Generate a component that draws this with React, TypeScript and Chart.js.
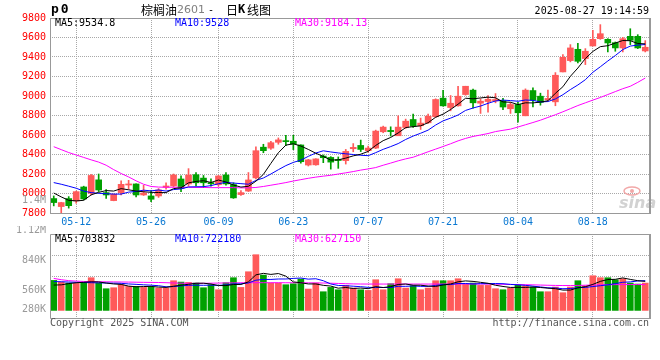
import React, { useEffect, useRef } from "react";
import { Chart, registerables } from "chart.js";

Chart.register(...registerables);

// ---------------- data ----------------
const dates = [
  "05-07","05-08","05-09","05-12","05-13","05-14","05-15","05-16","05-19","05-20",
  "05-21","05-22","05-23","05-26","05-27","05-28","05-29","05-30","06-03","06-04",
  "06-05","06-06","06-09","06-10","06-11","06-12","06-13","06-16","06-17","06-18",
  "06-19","06-20","06-23","06-24","06-25","06-26","06-27","06-30","07-01","07-02",
  "07-03","07-04","07-07","07-08","07-09","07-10","07-11","07-14","07-15","07-16",
  "07-17","07-18","07-21","07-22","07-23","07-24","07-25","07-28","07-29","07-30",
  "07-31","08-01","08-04","08-05","08-06","08-07","08-08","08-11","08-12","08-13",
  "08-14","08-15","08-18","08-19","08-20","08-21","08-22","08-25","08-26","08-27",
];

const opens = [
  7948, 7866, 7948, 7924, 8067, 8002, 8140, 8009, 7927, 8009,
  8087, 8098, 7985, 7975, 7975, 8064, 8077, 8149, 8098, 8193,
  8158, 8112, 8090, 8190, 8092, 7989, 8025, 8160, 8475, 8465,
  8525, 8536, 8536, 8498, 8292, 8294, 8384, 8370, 8345, 8337,
  8459, 8493, 8439, 8466, 8633, 8647, 8592, 8677, 8759, 8695,
  8725, 8787, 8978, 8882, 8899, 9015, 9060, 8926, 8943, 8950,
  8952, 8869, 8913, 8797, 9056, 8998, 8961, 8940, 9247, 9363,
  9479, 9384, 9513, 9588, 9581, 9547, 9493, 9612, 9612, 9462,
];
const highs = [
  7975, 7910, 7968, 8025, 8075, 8195, 8200, 8040, 7995, 8130,
  8135, 8098, 8085, 8030, 8050, 8110, 8200, 8180, 8255, 8215,
  8185, 8150, 8185, 8215, 8110, 8030, 8215, 8478, 8505, 8535,
  8570, 8597, 8597, 8498, 8350, 8357, 8395, 8378, 8375, 8452,
  8512, 8548, 8486, 8650, 8691, 8684, 8797, 8763, 8814, 8773,
  8814, 8971, 9059, 9005, 9100, 9100, 9070, 8971, 9005, 9025,
  8975, 8934, 8934, 9073, 9084, 9029, 9060, 9240, 9425, 9527,
  9540, 9486, 9674, 9732, 9588, 9554, 9602, 9690, 9629, 9568,
];
const lows = [
  7873, 7800, 7850, 7900, 7935, 7985, 8020, 7950, 7925, 7985,
  8045, 7965, 7980, 7915, 7960, 8045, 8065, 8020, 8075, 8078,
  8060, 8075, 8075, 8085, 7950, 7980, 8020, 8150, 8418, 8452,
  8505, 8490, 8450, 8310, 8282, 8290, 8316, 8250, 8258, 8302,
  8428, 8430, 8422, 8460, 8623, 8589, 8592, 8667, 8677, 8657,
  8718, 8780, 8896, 8848, 8896, 9008, 8875, 8821, 8834, 8930,
  8860, 8821, 8732, 8797, 8889, 8906, 8947, 8900, 9247, 9350,
  9339, 9322, 9513, 9581, 9452, 9459, 9452, 9527, 9486, 9452,
];
const closes = [
  7907, 7907, 7875, 8019, 7944, 8185, 8036, 7985, 7992, 8094,
  8098, 7985, 8005, 7941, 8036, 8077, 8190, 8053, 8190, 8110,
  8110, 8100, 8180, 8098, 7955, 8009, 8139, 8439, 8439, 8521,
  8550, 8532, 8506, 8326, 8345, 8355, 8367, 8322, 8338, 8432,
  8473, 8452, 8466, 8640, 8681, 8635, 8681, 8742, 8691, 8722,
  8793, 8964, 8899, 8926, 8998, 9100, 8930, 8947, 8967, 8964,
  8887, 8913, 8828, 9060, 8957, 8934, 8975, 9213, 9397, 9493,
  9356, 9459, 9581, 9639, 9544, 9493, 9588, 9571, 9493, 9500,
];

const ma5 = [
  8005, 7965, 7930, 7924, 7930, 7986, 8012, 8030, 8025, 8050,
  8038, 8025, 8018, 8012, 8010, 8009, 8050, 8059, 8109, 8124,
  8131, 8113, 8138, 8118, 8087, 8066, 8074, 8126, 8196, 8309,
  8418, 8496, 8510, 8487, 8452, 8413, 8380, 8343, 8345, 8363,
  8386, 8403, 8432, 8493, 8542, 8575, 8621, 8676, 8686, 8694,
  8726, 8782, 8814, 8861, 8916, 8977, 8971, 8980, 8988, 8982,
  8939, 8936, 8912, 8930, 8929, 8938, 8951, 9028, 9095, 9202,
  9287, 9384, 9457, 9506, 9516, 9543, 9569, 9567, 9538, 9534.8,
];
const ma10 = [
  8112, 8095, 8075, 8054, 8025, 8009, 8002, 7998, 7994, 7994,
  8014, 8021, 8034, 8027, 8036, 8025, 8040, 8047, 8067, 8069,
  8070, 8081, 8100, 8115, 8107, 8101, 8095, 8134, 8159, 8200,
  8244, 8286, 8319, 8342, 8381, 8415, 8438, 8426, 8416, 8407,
  8400, 8392, 8388, 8419, 8453, 8481, 8512, 8554, 8589, 8618,
  8650, 8702, 8745, 8773, 8805, 8852, 8877, 8897, 8925, 8949,
  8958, 8953, 8946, 8959, 8955, 8939, 8943, 8970, 9013, 9066,
  9113, 9167, 9243, 9300, 9359, 9415, 9476, 9512, 9522, 9528,
];
const ma30 = [
  8480, 8450, 8420, 8395, 8370, 8345, 8322, 8290, 8245, 8205,
  8170, 8130, 8095, 8072, 8066, 8064, 8064, 8064, 8064, 8062,
  8062, 8060, 8060, 8060, 8060, 8058, 8058, 8062, 8072, 8085,
  8098, 8112, 8128, 8142, 8156, 8168, 8178, 8187, 8200, 8212,
  8225, 8240, 8252, 8266, 8290, 8312, 8335, 8355, 8372, 8400,
  8428, 8455, 8482, 8510, 8540, 8565, 8585, 8600, 8615, 8635,
  8648, 8660, 8682, 8705, 8728, 8752, 8780, 8808, 8838, 8870,
  8902, 8930, 8958, 8985, 9015, 9045, 9075, 9100, 9140, 9184.13,
];

const volumes = [
  728000, 687000, 663000, 655000, 679000, 793000, 663000, 526000, 550000, 623000,
  582000, 582000, 558000, 566000, 542000, 542000, 720000, 687000, 679000, 663000,
  550000, 623000, 501000, 671000, 793000, 558000, 938000, 1351000, 857000, 663000,
  663000, 623000, 647000, 760000, 518000, 663000, 453000, 558000, 501000, 607000,
  542000, 501000, 485000, 744000, 501000, 647000, 768000, 542000, 598000, 501000,
  542000, 720000, 720000, 720000, 768000, 647000, 663000, 607000, 607000, 526000,
  501000, 542000, 623000, 598000, 566000, 453000, 453000, 566000, 429000, 566000,
  720000, 598000, 841000, 793000, 793000, 744000, 768000, 663000, 639000, 663000,
];
const volMa5 = [
  615000, 620000, 650000, 670000, 682000, 695000, 691000, 663000, 642000, 631000,
  589000, 573000, 579000, 582000, 566000, 558000, 586000, 611000, 634000, 658000,
  660000, 640000, 603000, 602000, 628000, 629000, 692000, 862000, 899000, 873000,
  894000, 831000, 691000, 671000, 642000, 642000, 608000, 590000, 539000, 556000,
  532000, 542000, 527000, 576000, 555000, 576000, 629000, 640000, 611000, 611000,
  590000, 581000, 616000, 641000, 694000, 715000, 704000, 681000, 658000, 610000,
  581000, 557000, 560000, 558000, 566000, 556000, 539000, 527000, 493000, 493000,
  547000, 576000, 631000, 704000, 749000, 754000, 788000, 752000, 721000, 703832,
];
const volMa10 = [
  700000, 695000, 688000, 680000, 675000, 672000, 668000, 664000, 660000, 657000,
  642000, 632000, 621000, 612000, 599000, 573000, 579000, 595000, 608000, 612000,
  609000, 613000, 607000, 618000, 643000, 645000, 666000, 733000, 751000, 751000,
  762000, 762000, 776000, 785000, 758000, 768000, 720000, 641000, 605000, 599000,
  587000, 575000, 559000, 557000, 556000, 554000, 585000, 584000, 594000, 583000,
  583000, 605000, 628000, 626000, 653000, 653000, 642000, 649000, 650000, 652000,
  648000, 630000, 620000, 608000, 588000, 569000, 548000, 544000, 526000, 530000,
  552000, 557000, 579000, 599000, 621000, 650000, 682000, 692000, 713000, 722180,
];
const volMa30 = [
  776000, 745000, 722000, 710000, 702000, 697000, 695000, 693000, 691000, 689000,
  687000, 684000, 681000, 679000, 677000, 672000, 665000, 660000, 657000, 656000,
  657000, 660000, 663000, 666000, 668000, 670000, 671000, 672000, 672000, 672000,
  672000, 671000, 671000, 670000, 669000, 667000, 664000, 660000, 654000, 648000,
  643000, 640000, 639000, 639000, 639000, 639000, 639000, 639000, 639000, 639000,
  639000, 640000, 640000, 641000, 641000, 641000, 640000, 639000, 638000, 636000,
  633000, 630000, 627000, 624000, 620000, 615000, 610000, 606000, 603000, 603000,
  606000, 611000, 616000, 620000, 623000, 625000, 626000, 627000, 627000, 627150,
];

const dateTickLabels = ["05-12", "05-26", "06-09", "06-23", "07-07", "07-21", "08-04", "08-18"];
const priceMin = 7800;
const priceMax = 9800;
const priceStep = 200;
const volTickLabels = ["1.12M", "840K", "560K", "280K"];
const volMaxLabel = "1.4M";
const priceLegend = ["MA5:9534.8", "MA10:9528", "MA30:9184.13"];
const volLegend = ["MA5:703832", "MA10:722180", "MA30:627150"];
const stampText = "2025-08-27 19:14:59";
const codeText = "p0";
const titleName = "棕榈油";
const titleCode = "2601";
const titleDash = "-";
const titleDay = "日";
const titleK = "K";
const titleKind = "线图";
const copyrightText = "Copyright 2025 SINA.COM";
const urlText = "http://finance.sina.com.cn";
const watermarkText = "sina";

// ---------------- style ----------------
const RED = "#ff5a5a";
const GREEN = "#00a000";
const MONO = "'DejaVu Sans Mono', 'Liberation Mono', monospace";
const CJK = "'Noto Sans CJK SC', sans-serif";
const GRID = "#a8a8a8";
const FRAME = "#999999";
const LEGEND_COLORS = ["#000000", "#0000ff", "#ff00ff"];

const candleColors = closes.map((c, i) => (c >= opens[i] ? RED : GREEN));

function drawFrame(ctx: CanvasRenderingContext2D, a: any) {
  const l = Math.round(a.left), t = Math.round(a.top), r = Math.round(a.right), b = Math.round(a.bottom);
  ctx.save();
  ctx.strokeStyle = FRAME;
  ctx.lineWidth = 1;
  ctx.beginPath();
  ctx.moveTo(l + 0.5, b + 0.5);
  ctx.lineTo(l + 0.5, t + 0.5);
  ctx.lineTo(r + 0.5, t + 0.5);
  ctx.moveTo(l + 0.5, b + 0.5);
  ctx.lineTo(r + 0.5, b + 0.5);
  ctx.stroke();
  ctx.lineWidth = 2;
  ctx.beginPath();
  ctx.moveTo(r + 1, t);
  ctx.lineTo(r + 1, b + 1);
  ctx.stroke();
  ctx.restore();
}

function drawLegend(ctx: CanvasRenderingContext2D, a: any, texts: string[]) {
  ctx.save();
  ctx.font = `10px ${MONO}`;
  ctx.textBaseline = "middle";
  ctx.textAlign = "left";
  texts.forEach((t, i) => {
    ctx.fillStyle = LEGEND_COLORS[i];
    ctx.fillText(t, a.left + 5 + i * 120, a.top + 5.5);
  });
  ctx.restore();
}

const mainDecor = {
  id: "mainDecor",
  beforeDatasetsDraw(chart: any) {
    const { ctx, chartArea: a } = chart;
    ctx.save();
    // watermark
    ctx.strokeStyle = "#f2a8a8";
    ctx.fillStyle = "#f2a8a8";
    ctx.lineWidth = 1.5;
    ctx.beginPath();
    ctx.ellipse(a.right - 17, a.bottom - 22, 8, 4, 0, 0, Math.PI * 2);
    ctx.stroke();
    ctx.beginPath();
    ctx.arc(a.right - 17, a.bottom - 22, 2, 0, Math.PI * 2);
    ctx.fill();
    ctx.fillStyle = "#d2d2d2";
    ctx.font = "italic bold 16px 'DejaVu Sans', sans-serif";
    ctx.textBaseline = "alphabetic";
    ctx.fillText(watermarkText, a.right - 30, a.bottom - 5);
    ctx.restore();
  },
  afterDraw(chart: any) {
    const { ctx, chartArea: a } = chart;
    drawFrame(ctx, a);
    drawLegend(ctx, a, priceLegend);
    ctx.save();
    ctx.textBaseline = "middle";
    // code
    ctx.fillStyle = "#000";
    ctx.font = `bold 13px ${MONO}`;
    (ctx as any).letterSpacing = "2px";
    ctx.fillText(codeText, 51, 10);
    (ctx as any).letterSpacing = "0px";
    // title
    ctx.font = `12px ${CJK}`;
    ctx.fillText(titleName, 141, 10);
    ctx.fillStyle = "#808080";
    ctx.font = "11px 'DejaVu Sans', sans-serif";
    ctx.fillText(titleCode, 177, 10.5);
    ctx.fillStyle = "#000";
    ctx.font = `10px ${MONO}`;
    ctx.fillText(titleDash, 208, 10);
    ctx.font = `12px ${CJK}`;
    ctx.fillText(titleDay, 226, 10);
    ctx.font = `bold 12px ${MONO}`;
    ctx.fillText(titleK, 238, 10);
    ctx.font = `12px ${CJK}`;
    ctx.fillText(titleKind, 247, 10);
    // stamp
    ctx.font = `10px ${MONO}`;
    ctx.textAlign = "right";
    ctx.fillText(stampText, a.right, 11);
    // volume max label sitting in the price axis
    ctx.fillStyle = "#999";
    ctx.fillText(volMaxLabel, a.left - 4, a.bottom - 13);
    ctx.restore();
  },
};

const volDecor = {
  id: "volDecor",
  afterDraw(chart: any) {
    const { ctx, chartArea: a } = chart;
    drawFrame(ctx, a);
    drawLegend(ctx, a, volLegend);
    ctx.save();
    ctx.font = `10px ${MONO}`;
    ctx.textBaseline = "middle";
    ctx.textAlign = "right";
    ctx.fillStyle = "#999";
    const offs = [-3.3, 26.7, 56.4, 75.7];
    volTickLabels.forEach((t, i) => ctx.fillText(t, a.left - 4, a.top + offs[i]));
    ctx.fillStyle = "#555";
    ctx.textAlign = "left";
    ctx.fillText(copyrightText, a.left, a.bottom + 5);
    ctx.textAlign = "right";
    ctx.fillText(urlText, a.right, a.bottom + 5);
    ctx.restore();
  },
};

function lineDs(data: number[], color: string) {
  return {
    type: "line" as const,
    data,
    borderColor: color,
    borderWidth: 1,
    pointRadius: 0,
    tension: 0,
    fill: false,
    order: 0,
  };
}

function xAxis(showTicks: boolean, height: number) {
  return {
    type: "category" as const,
    offset: true,
    grid: { offset: false, color: GRID, drawTicks: false, lineWidth: 1 },
    border: { display: false, dash: [1, 1] },
    ticks: {
      display: showTicks,
      autoSkip: false,
      maxRotation: 0,
      color: "#0a78d2",
      font: { family: MONO, size: 10 },
      padding: 3,
    },
    afterBuildTicks(s: any) {
      s.ticks = dateTickLabels.map((d) => ({ value: dates.indexOf(d) }));
    },
    afterFit(s: any) {
      s.height = height;
    },
  };
}

export default function App() {
  const aRef = useRef<HTMLCanvasElement>(null);
  const bRef = useRef<HTMLCanvasElement>(null);

  useEffect(() => {
    const main = new Chart(aRef.current as HTMLCanvasElement, {
      type: "bar",
      data: {
        labels: dates,
        datasets: [
          lineDs(ma5, "#000000"),
          lineDs(ma10, "#0000ff"),
          lineDs(ma30, "#ff00ff"),
          {
            type: "bar",
            data: opens.map((o, i) => [o, closes[i]]),
            backgroundColor: candleColors,
            barThickness: 6,
            grouped: false,
            minBarLength: 1,
            order: 1,
          },
          {
            type: "bar",
            data: lows.map((l, i) => [l, highs[i]]),
            backgroundColor: candleColors,
            barThickness: 1,
            grouped: false,
            order: 2,
          },
        ] as any,
      },
      options: {
        animation: false,
        responsive: false,
        events: [],
        layout: { padding: { top: 18, right: 11, left: 0, bottom: 0 } },
        plugins: { legend: { display: false }, tooltip: { enabled: false } },
        scales: {
          x: xAxis(true, 13) as any,
          y: {
            min: priceMin,
            max: priceMax,
            grid: { color: GRID, drawTicks: false },
            border: { display: false, dash: [1, 1] },
            ticks: {
              stepSize: priceStep,
              color: "#ff0000",
              font: { family: MONO, size: 10 },
              padding: 4,
              callback: (v: any) => String(v),
            },
            afterFit(s: any) {
              s.width = 50;
            },
          },
        },
      },
      plugins: [mainDecor],
    });

    const vol = new Chart(bRef.current as HTMLCanvasElement, {
      type: "bar",
      data: {
        labels: dates,
        datasets: [
          lineDs(volMa5, "#000000"),
          lineDs(volMa10, "#0000ff"),
          lineDs(volMa30, "#ff00ff"),
          {
            type: "bar",
            data: volumes,
            backgroundColor: candleColors,
            barThickness: 6,
            grouped: false,
            order: 1,
          },
        ] as any,
      },
      options: {
        animation: false,
        responsive: false,
        events: [],
        layout: { padding: { top: 8, right: 11, left: 0, bottom: 0 } },
        plugins: { legend: { display: false }, tooltip: { enabled: false } },
        scales: {
          x: xAxis(false, 42) as any,
          y: {
            min: -184000,
            max: 1853000,
            grid: { color: GRID, drawTicks: false },
            border: { display: false, dash: [1, 1] },
            ticks: { display: false },
            afterBuildTicks(s: any) {
              const span = s.max - s.min;
              s.ticks = [1, 2, 3].map((k) => ({ value: s.max - (span * k) / 4 }));
            },
            afterFit(s: any) {
              s.width = 50;
            },
          },
        },
      },
      plugins: [volDecor],
    });

    return () => {
      main.destroy();
      vol.destroy();
    };
  }, []);

  return (
    <div
      style={{
        position: "absolute",
        left: 0,
        top: 0,
        width: 660,
        height: 360,
        background: "#ffffff",
        overflow: "hidden",
      }}
    >
      <canvas ref={aRef} width={660} height={226} style={{ position: "absolute", left: 0, top: 0 }} />
      <canvas ref={bRef} width={660} height={134} style={{ position: "absolute", left: 0, top: 226 }} />
    </div>
  );
}
